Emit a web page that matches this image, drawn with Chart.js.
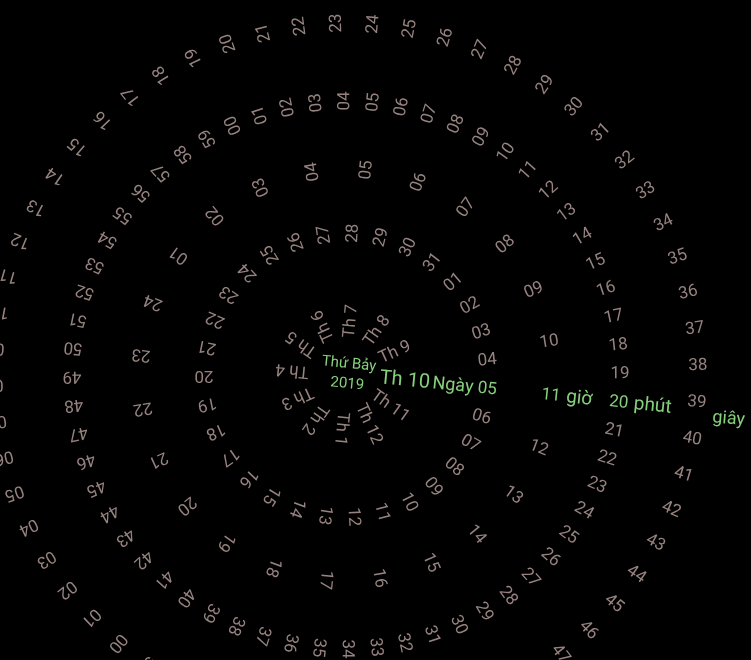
<!DOCTYPE html>
<html>
<head>
<meta charset="utf-8">
<script src="https://cdn.jsdelivr.net/npm/chart.js@4/dist/chart.umd.min.js"></script>
<style>
body { margin: 0; background: #000; }
canvas { display: block; }
</style>
</head>
<body>
<canvas id="myChart" width="751" height="660"></canvas>
<script>
const monthLabels = ['Th 1', 'Th 2', 'Th 3', 'Th 4', 'Th 5', 'Th 6', 'Th 7', 'Th 8', 'Th 9', 'Th 10', 'Th 11', 'Th 12'];
const dayLabels = ['01', '02', '03', '04', '05', '06', '07', '08', '09', '10', '11', '12', '13', '14', '15', '16',
    '17', '18', '19', '20', '21', '22', '23', '24', '25', '26', '27', '28', '29', '30', '31'];
const hourLabels = ['01', '02', '03', '04', '05', '06', '07', '08', '09', '10', '11', '12',
    '13', '14', '15', '16', '17', '18', '19', '20', '21', '22', '23', '24'];
const minuteLabels = ['00', '01', '02', '03', '04', '05', '06', '07', '08', '09', '10', '11', '12', '13', '14',
    '15', '16', '17', '18', '19', '20', '21', '22', '23', '24', '25', '26', '27', '28', '29',
    '30', '31', '32', '33', '34', '35', '36', '37', '38', '39', '40', '41', '42', '43', '44',
    '45', '46', '47', '48', '49', '50', '51', '52', '53', '54', '55', '56', '57', '58', '59'];
const secondLabels = minuteLabels;

const weekdayText = 'Thứ Bảy';
const yearText = '2019';
const currentMonth = 'Th 10';
const currentDay = '05';
const currentHour = '11';
const currentMinute = '20';
const currentSecond = '39';

const GRAY = '#96837f';
const GREEN = '#86cf7c';
const FONT = 'Roboto, "Noto Sans", sans-serif';

// ring layout: radius in px units of the scales, turn in degrees
const rings = [
    { labels: monthLabels, current: currentMonth, r: 54, turn: 5.5, curSize: 20, out: 5 },
    { labels: dayLabels, current: currentDay, r: 142, turn: 5.8, prefix: 'Ngày ' },
    { labels: hourLabels, current: currentHour, r: 206, turn: 5.8, suffix: ' giờ' },
    { labels: minuteLabels, current: currentMinute, r: 274, turn: 5.8, suffix: ' phút' },
    { labels: secondLabels, current: currentSecond, r: 352, turn: 4.5, below: 'giây' }
];

function ringPoints(ring) {
    const cur = ring.labels.indexOf(ring.current);
    return ring.labels.map((t, i) => {
        const a = ((i - cur) * 360 / ring.labels.length + ring.turn) * Math.PI / 180;
        return { x: ring.r * Math.cos(a), y: ring.r * Math.sin(a) };
    });
}

const datasets = rings.map(ring => ({
    data: ringPoints(ring),
    pointRadius: 0
}));
datasets.push({ data: [{ x: 0, y: 0 }], pointRadius: 0 });

const ringText = {
    id: 'ringText',
    afterDatasetsDraw(chart) {
        const ctx = chart.ctx;
        const cx = chart.scales.x.getPixelForValue(0);
        const cy = chart.scales.y.getPixelForValue(0);
        ctx.save();
        ctx.textBaseline = 'middle';

        rings.forEach((ring, d) => {
            const meta = chart.getDatasetMeta(d);
            meta.data.forEach((pt, i) => {
                const label = ring.labels[i];
                const isCur = label === ring.current;
                const size = (isCur && ring.curSize) ? ring.curSize : 17;
                ctx.save();
                ctx.translate(pt.x, pt.y);
                ctx.rotate(Math.atan2(pt.y - cy, pt.x - cx));
                ctx.font = size + 'px ' + FONT;
                ctx.textAlign = 'center';
                ctx.fillStyle = (isCur && !ring.below) ? GREEN : GRAY;
                ctx.fillText(label, (isCur && ring.out) ? ring.out : 0, 0);
                if (isCur) {
                    const w = ctx.measureText(label).width;
                    ctx.fillStyle = GREEN;
                    ctx.font = '18px ' + FONT;
                    if (ring.prefix) {
                        ctx.textAlign = 'right';
                        ctx.fillText(ring.prefix, -w / 2, 0);
                    }
                    if (ring.suffix) {
                        ctx.textAlign = 'left';
                        ctx.font = '19px ' + FONT;
                        ctx.fillText(ring.suffix, w / 2 + 1, 0);
                    }
                    if (ring.below) {
                        ctx.textAlign = 'left';
                        ctx.fillText(ring.below, w / 2 + 7, 14);
                    }
                }
                ctx.restore();
            });
        });

        // weekday and year in the middle
        const mid = chart.getDatasetMeta(rings.length).data[0];
        ctx.translate(mid.x, mid.y);
        ctx.rotate(5.5 * Math.PI / 180);
        ctx.font = '15px ' + FONT;
        ctx.textAlign = 'center';
        ctx.fillStyle = GREEN;
        ctx.fillText(weekdayText, 2, -11);
        ctx.fillText(yearText, 2, 9);
        ctx.restore();
    }
};

const ctx = document.getElementById('myChart').getContext('2d');
new Chart(ctx, {
    type: 'scatter',
    data: { datasets: datasets },
    options: {
        responsive: false,
        animation: false,
        events: [],
        layout: { padding: 0 },
        plugins: {
            legend: { display: false },
            tooltip: { enabled: false }
        },
        scales: {
            x: { display: false, min: -346, max: 405 },
            y: { display: false, min: -375, max: 285, reverse: true }
        }
    },
    plugins: [ringText]
});
</script>
</body>
</html>
